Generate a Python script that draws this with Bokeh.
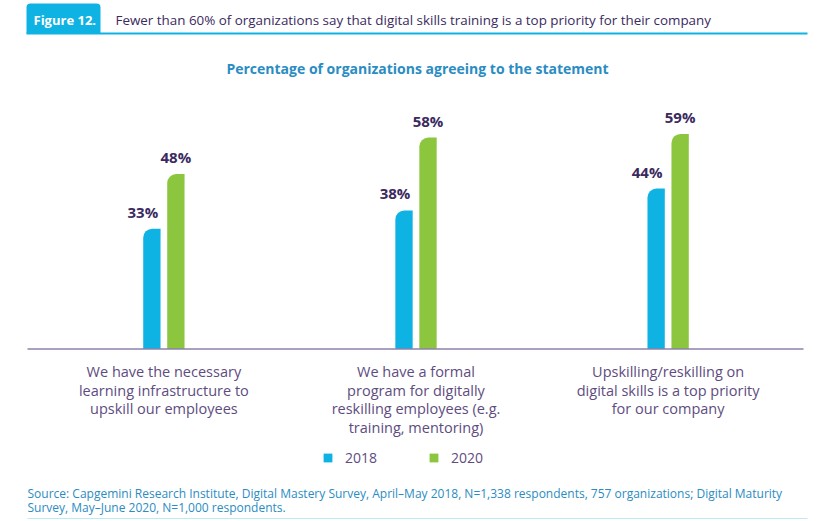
from bokeh.plotting import figure
from bokeh.models import (ColumnDataSource, FactorRange, Range1d, LabelSet, Label,
                          BoxAnnotation, Legend, LegendItem)
from bokeh.core.properties import value
from bokeh.transform import dodge
from bokeh.embed import file_html
from bokeh.resources import INLINE

# ---- data ----
categories = [
    "We have the necessary\nlearning infrastructure to\nupskill our employees",
    "We have a formal\nprogram for digitally\nreskilling employees (e.g.\ntraining, mentoring)",
    "Upskilling/reskilling on\ndigital skills is a top priority\nfor our company",
]
values_2018 = [33, 38, 44]
values_2020 = [48, 58, 59]
series_names = ["2018", "2020"]
labels_2018 = [f"{v}%" for v in values_2018]
labels_2020 = [f"{v}%" for v in values_2020]

figure_tag = "Figure 12."
title_text = "Fewer than 60% of organizations say that digital skills training is a top priority for their company"
subtitle_text = "Percentage of organizations agreeing to the statement"
source_line1 = ("Source: Capgemini Research Institute, Digital Mastery Survey, April\u2013May 2018, "
                "N=1,338 respondents, 757 organizations; Digital Maturity")
source_line2 = "Survey, May\u2013June 2020, N=1,000 respondents."

BLUE = "#0fb3e3"
GREEN = "#8cc63f"
DARK = "#3b2a5e"
CAT = "#5e4c80"
TEAL = "#2a8cc2"
FONT = "Open Sans"

src = ColumnDataSource(data=dict(cat=categories, y2018=values_2018, y2020=values_2020,
                                 l2018=labels_2018, l2020=labels_2020))

W, H = 840, 521
p = figure(width=W, height=H, output_backend="svg", toolbar_location=None,
           x_range=FactorRange(factors=categories, range_padding=0.148,
                               range_padding_units="absolute"),
           y_range=Range1d(-47.33, 95.61),
           x_axis_location=None, y_axis_location=None,
           min_border_left=0, min_border_right=9, min_border_top=0, min_border_bottom=0)
p.outline_line_color = None
p.xgrid.grid_line_color = None
p.ygrid.grid_line_color = None
p.background_fill_color = "white"
p.border_fill_color = "white"

off = 0.0476
bw = 0.0687
r1 = p.vbar(x=dodge("cat", -off, range=p.x_range), top="y2018", bottom=0, width=bw,
            source=src, fill_color=BLUE, line_color=None, border_radius=(9, 0, 0, 0))
r2 = p.vbar(x=dodge("cat", off, range=p.x_range), top="y2020", bottom=0, width=bw,
            source=src, fill_color=GREEN, line_color=None, border_radius=(9, 0, 0, 0))

# baseline
p.add_layout(BoxAnnotation(left=27, right=803, left_units="screen", right_units="screen",
                           bottom=-0.2, top=0.2, fill_color="#8c82aa", fill_alpha=1,
                           line_alpha=0, level="overlay"))

# value labels
p.add_layout(LabelSet(x=dodge("cat", -off, range=p.x_range), y="y2018", text="l2018",
                      source=src, x_offset=-9, y_offset=11, text_align="center",
                      text_baseline="alphabetic", text_font=value(FONT), text_font_size="15px",
                      text_font_style="bold", text_color=DARK))
p.add_layout(LabelSet(x=dodge("cat", off, range=p.x_range), y="y2020", text="l2020",
                      source=src, y_offset=11, text_align="center",
                      text_baseline="alphabetic", text_font=value(FONT), text_font_size="15px",
                      text_font_style="bold", text_color=DARK))

# category labels
p.text(x="cat", y=0, text="cat", source=src, y_offset=13,
       text_align="center", text_baseline="top", text_font=value(FONT),
       text_font_size="14.5px", text_line_height=0.98, text_color=CAT)

# header
p.add_layout(BoxAnnotation(left=26, right=100, bottom=488, top=518,
                           left_units="screen", right_units="screen",
                           bottom_units="screen", top_units="screen",
                           fill_color=BLUE, fill_alpha=1, line_alpha=0,
                           border_radius=(4, 4, 0, 0)))
p.add_layout(BoxAnnotation(left=26, right=807, bottom=487, top=489,
                           left_units="screen", right_units="screen",
                           bottom_units="screen", top_units="screen",
                           fill_color=BLUE, fill_alpha=1, line_alpha=0))
p.add_layout(Label(x=33, y=502, x_units="screen", y_units="screen", text=figure_tag,
                   text_font=FONT, text_font_size="13px", text_font_style="bold",
                   text_color="white", text_baseline="middle"))
p.add_layout(Label(x=115, y=501.5, x_units="screen", y_units="screen", text=title_text,
                   text_font=FONT, text_font_size="13.4px", text_color=DARK,
                   text_baseline="middle"))
p.add_layout(Label(x=417, y=453, x_units="screen", y_units="screen", text=subtitle_text,
                   text_font=FONT, text_font_size="14px", text_font_style="bold",
                   text_color=TEAL, text_baseline="middle", text_align="center"))

# source
p.add_layout(Label(x=27, y=27.7, x_units="screen", y_units="screen", text=source_line1,
                   text_font=FONT, text_font_size="12px", text_color=TEAL,
                   text_baseline="middle"))
p.add_layout(Label(x=27, y=14.3, x_units="screen", y_units="screen", text=source_line2,
                   text_font=FONT, text_font_size="12px", text_color=TEAL,
                   text_baseline="middle"))
p.add_layout(BoxAnnotation(left=27, right=807, bottom=2.5, top=3.5,
                           left_units="screen", right_units="screen",
                           bottom_units="screen", top_units="screen",
                           fill_color="#bfe8f4", fill_alpha=1, line_alpha=0))

# legend
legend = Legend(items=[LegendItem(label=series_names[0], renderers=[r1]),
                       LegendItem(label=series_names[1], renderers=[r2])],
                location=(322, 54), orientation="horizontal",
                glyph_width=11, glyph_height=11, label_standoff=12, label_width=83,
                spacing=0, padding=0, margin=0, border_line_alpha=0,
                background_fill_alpha=0, label_text_font=FONT,
                label_text_font_size="14px", label_text_color=CAT)
p.add_layout(legend)

open("out.html", "w").write(file_html(p, INLINE))
